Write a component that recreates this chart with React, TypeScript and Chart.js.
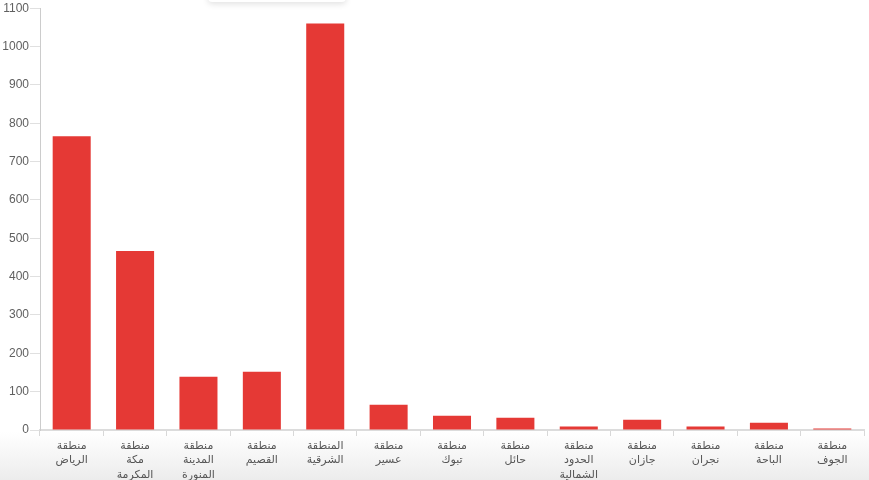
import React, { useEffect, useRef } from "react";
import { Chart, registerables } from "chart.js";

Chart.register(...registerables);

const categories: string[] = [
  "منطقة الرياض",
  "منطقة مكة المكرمة",
  "منطقة المدينة المنورة",
  "منطقة القصيم",
  "المنطقة الشرقية",
  "منطقة عسير",
  "منطقة تبوك",
  "منطقة حائل",
  "منطقة الحدود الشمالية",
  "منطقة جازان",
  "منطقة نجران",
  "منطقة الباحة",
  "منطقة الجوف",
];

const values: number[] = [766, 467, 139, 152, 1060, 66, 37, 32, 9, 27, 9, 19, 4];

const yMax = 1100;
const yStep = 100;

export default function App() {
  const ref = useRef<HTMLCanvasElement | null>(null);

  useEffect(() => {
    document.body.style.margin = "0";
    if (!ref.current) return;
    const chart = new Chart(ref.current, {
      type: "bar",
      data: {
        labels: categories,
        datasets: [
          {
            data: values,
            backgroundColor: "#e53935",
            borderWidth: 0,
            barPercentage: 0.6,
            categoryPercentage: 1,
          },
        ],
      },
      options: {
        animation: false,
        responsive: false,
        maintainAspectRatio: false,
        layout: { padding: { top: -1, right: 5, left: 0, bottom: 0 } },
        plugins: {
          legend: { display: false },
          tooltip: { enabled: false },
        },
        scales: {
          x: {
            offset: true,
            grid: {
              offset: true,
              drawOnChartArea: false,
              drawTicks: true,
              tickLength: 6,
              color: "#d8d8d8",
              lineWidth: 1,
            },
            border: { color: "#dcdcdc", width: 2 },
            ticks: {
              color: "#555",
              autoSkip: false,
              maxRotation: 0,
              minRotation: 0,
              padding: 3,
              font: { family: "Helvetica, Arial, 'DejaVu Sans', sans-serif", size: 11, lineHeight: 1.3 },
              callback: function (this: any, v: any) {
                const s = this.getLabelForValue(v) as string;
                return s.split(" ");
              },
            },
            afterFit: (s: any) => {
              s.height = 50;
            },
          },
          y: {
            min: 0,
            max: yMax,
            grid: {
              drawOnChartArea: false,
              drawTicks: true,
              tickLength: 10,
              color: "#e0e0e0",
            },
            border: { color: "#cccccc", width: 1 },
            ticks: {
              stepSize: yStep,
              color: "#606060",
              padding: 1,
              font: { family: "Helvetica, Arial, 'Liberation Sans', sans-serif", size: 12 },
              callback: (v: any) => String(v),
            },
            afterFit: (s: any) => {
              s.width = 40;
            },
          },
        },
      },
    });
    return () => chart.destroy();
  }, []);

  return (
    <div
      style={{
        position: "fixed",
        left: 0,
        top: 0,
        width: 869,
        height: 480,
        overflow: "hidden",
        background: "linear-gradient(to bottom, #ffffff 0px, #ffffff 432px, #ececec 480px)",
      }}
    >
      <div
        style={{
          position: "absolute",
          left: 208,
          top: -30,
          width: 138,
          height: 32,
          background: "#fff",
          borderRadius: 4,
          boxShadow: "0 2px 6px rgba(0,0,0,0.12)",
        }}
      />
      <canvas ref={ref} width={869} height={480} style={{ position: "absolute", left: 0, top: 0 }} />
    </div>
  );
}
